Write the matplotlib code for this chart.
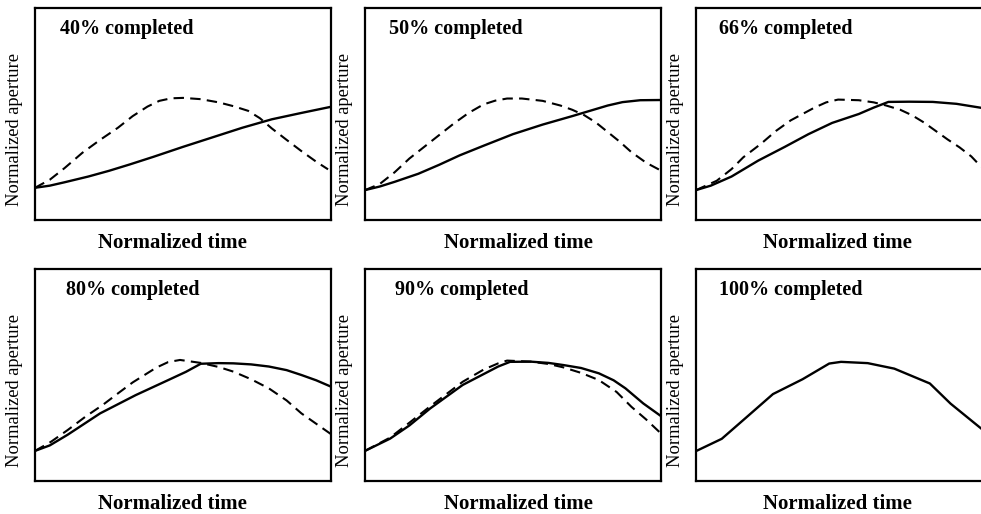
import matplotlib
matplotlib.use("Agg")
import matplotlib.pyplot as plt
import numpy as np

plt.rcParams['font.family'] = ['Liberation Serif', 'DejaVu Serif']

titles = ["40% completed", "50% completed", "66% completed",
          "80% completed", "90% completed", "100% completed"]

# solid = predicted aperture, dashed = reference (normalized units)
solid_x = [
    [0, 0.05, 0.1, 0.18, 0.25, 0.32, 0.4, 0.5, 0.6, 0.7, 0.8, 0.9, 1.0],
    [0, 0.05, 0.1, 0.18, 0.25, 0.32, 0.4, 0.5, 0.6, 0.7, 0.76, 0.82, 0.87, 0.93, 1.0],
    [0, 0.05, 0.12, 0.21, 0.3, 0.38, 0.46, 0.55, 0.6, 0.65, 0.72, 0.8, 0.88, 0.96, 1.0],
    [0, 0.05, 0.11, 0.22, 0.34, 0.45, 0.51, 0.56, 0.62, 0.67, 0.73, 0.79, 0.85, 0.9, 0.95, 1.0],
    [0, 0.085, 0.15, 0.22, 0.33, 0.45, 0.49, 0.56, 0.62, 0.67, 0.73, 0.79, 0.84, 0.88, 0.94, 1.0],
    [0, 0.087, 0.17, 0.26, 0.36, 0.45, 0.49, 0.58, 0.67, 0.79, 0.86, 0.97, 1.0],
]
solid_y = [
    [0.152, 0.162, 0.178, 0.205, 0.232, 0.262, 0.298, 0.345, 0.39, 0.435, 0.475, 0.505, 0.534],
    [0.141, 0.158, 0.18, 0.218, 0.26, 0.305, 0.35, 0.405, 0.45, 0.49, 0.515, 0.54, 0.556, 0.565, 0.566],
    [0.141, 0.162, 0.205, 0.28, 0.345, 0.405, 0.458, 0.50, 0.53, 0.557, 0.558, 0.557, 0.548, 0.53, 0.52],
    [0.142, 0.168, 0.218, 0.319, 0.405, 0.476, 0.515, 0.553, 0.556, 0.555, 0.55, 0.54, 0.523, 0.50, 0.475, 0.445],
    [0.142, 0.20, 0.262, 0.342, 0.453, 0.54, 0.562, 0.563, 0.557, 0.547, 0.533, 0.508, 0.475, 0.437, 0.366, 0.306],
    [0.141, 0.199, 0.30, 0.41, 0.48, 0.554, 0.562, 0.556, 0.53, 0.46, 0.365, 0.24, 0.21],
]
dash_x = [
    [0, 0.05, 0.1, 0.16, 0.22, 0.28, 0.33, 0.38, 0.42, 0.46, 0.5, 0.56, 0.62, 0.67,
     0.72, 0.76, 0.8, 0.85, 0.9, 0.95, 0.99],
    [0, 0.05, 0.1, 0.15, 0.2, 0.25, 0.3, 0.35, 0.4, 0.44, 0.48, 0.53, 0.6, 0.66,
     0.7, 0.74, 0.78, 0.82, 0.86, 0.9, 0.95, 1.0],
    [0, 0.07, 0.12, 0.16, 0.22, 0.27, 0.32, 0.36, 0.4, 0.44, 0.48, 0.55, 0.6, 0.64,
     0.69, 0.73, 0.77, 0.81, 0.85, 0.89, 0.93, 0.96, 1.0],
    [0, 0.054, 0.11, 0.17, 0.23, 0.28, 0.33, 0.37, 0.41, 0.45, 0.49, 0.56, 0.62, 0.67,
     0.73, 0.79, 0.85, 0.9, 0.95, 1.0],
    [0, 0.085, 0.15, 0.22, 0.33, 0.4, 0.45, 0.48, 0.56, 0.62, 0.67, 0.73, 0.79, 0.85,
     0.9, 0.95, 1.0],
    [],
]
dash_y = [
    [0.152, 0.19, 0.245, 0.317, 0.378, 0.435, 0.49, 0.535, 0.562, 0.574, 0.576, 0.57,
     0.555, 0.537, 0.515, 0.48, 0.432, 0.378, 0.325, 0.275, 0.239],
    [0.141, 0.17, 0.225, 0.29, 0.345, 0.40, 0.455, 0.505, 0.545, 0.563, 0.573, 0.573,
     0.562, 0.54, 0.52, 0.495, 0.46, 0.415, 0.37, 0.32, 0.27, 0.233],
    [0.141, 0.185, 0.24, 0.296, 0.36, 0.42, 0.47, 0.50, 0.53, 0.555, 0.568, 0.565,
     0.555, 0.541, 0.52, 0.494, 0.46, 0.42, 0.38, 0.343, 0.3, 0.256, 0.22],
    [0.142, 0.185, 0.24, 0.303, 0.36, 0.413, 0.465, 0.50, 0.535, 0.561, 0.571, 0.557,
     0.538, 0.516, 0.48, 0.437, 0.38, 0.319, 0.27, 0.221],
    [0.142, 0.205, 0.275, 0.352, 0.468, 0.525, 0.555, 0.568, 0.563, 0.552, 0.536,
     0.51, 0.476, 0.42, 0.35, 0.29, 0.224],
    [],
]

col_left = [35, 365, 696]
row_top = [8, 269]
ax_w, ax_h = 296, 212
title_x = [0.084, 0.081, 0.078, 0.105, 0.101, 0.078]
xlabel_x = [0.465, 0.517, 0.478]

W, H = 981, 514
fig = plt.figure(figsize=(W / 100, H / 100), dpi=100)

for i in range(6):
    r, c = divmod(i, 3)
    ax = fig.add_axes([col_left[c] / W, 1 - (row_top[r] + ax_h) / H, ax_w / W, ax_h / H])
    ax.plot(solid_x[i], solid_y[i], color='black', lw=1.7, solid_joinstyle='round')
    if dash_x[i]:
        ax.plot(dash_x[i], dash_y[i], color='black', lw=1.5, linestyle=(0, (5, 3)))
    ax.set_xlim(0, 1)
    ax.set_ylim(0, 1)
    ax.set_xticks([])
    ax.set_yticks([])
    for s in ax.spines.values():
        s.set_linewidth(1.6)
    ax.text(title_x[i], 0.9, titles[i], transform=ax.transAxes,
            fontsize=14.5, fontweight='bold', va='center', ha='left')
    ax.set_ylabel("Normalized aperture", fontsize=13.3, va='center')
    ax.yaxis.set_label_coords(-0.07, 0.425)
    ax.set_xlabel("Normalized time", fontsize=15, fontweight='bold', va='center')
    ax.xaxis.set_label_coords(xlabel_x[c], -0.11)

fig.savefig("out.png", dpi=100)
